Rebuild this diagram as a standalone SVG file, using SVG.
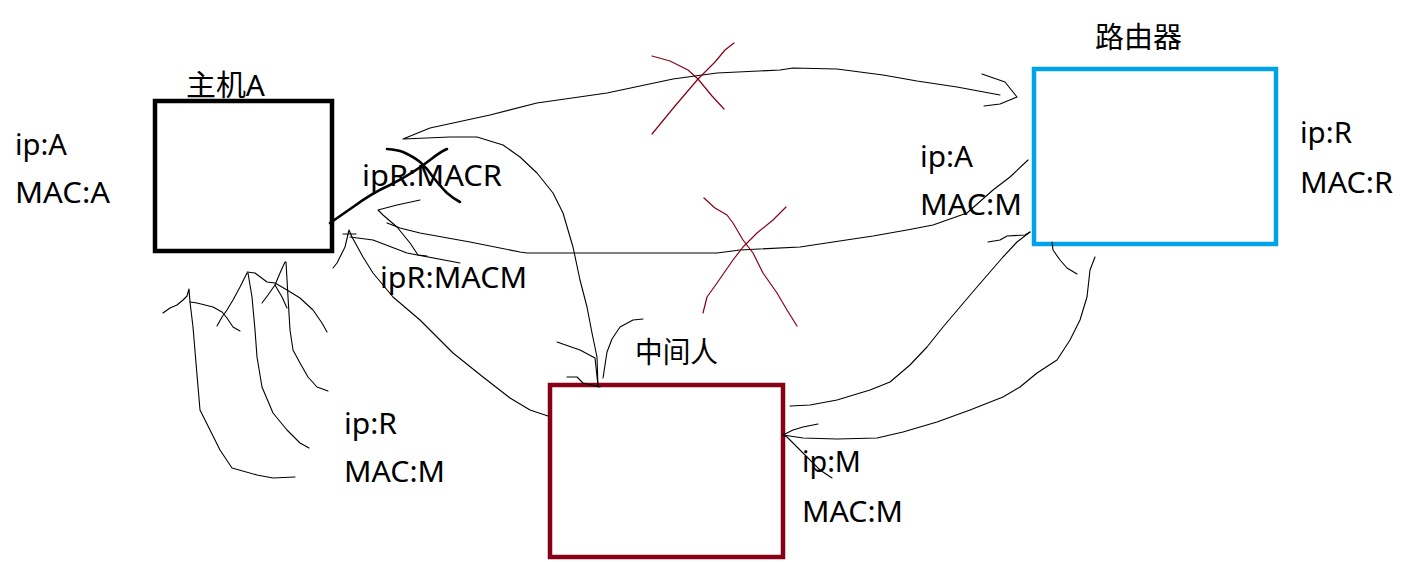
<svg xmlns="http://www.w3.org/2000/svg" width="1404" height="562" viewBox="0 0 1404 562">
<style>
  text { font-family: "Noto Sans", "Noto Sans CJK SC", sans-serif; font-size: 29px; fill: #000; }
  .box { fill: #fff; stroke-width: 4.5; }
  .ink { fill: none; stroke: #000; stroke-width: 1.1; stroke-linejoin: round; stroke-linecap: round; }
  .thick { fill: none; stroke: #000; stroke-width: 2.6; stroke-linejoin: round; stroke-linecap: round; }
  .cross { fill: none; stroke: #880015; stroke-width: 1.2; stroke-linejoin: round; stroke-linecap: round; }
</style>
<rect width="1404" height="562" fill="#fff"/>

<g id="host-a">
  <rect class="box" x="155" y="101" width="177" height="150" stroke="#000"/>
  <text x="186" y="96" textLength="79" lengthAdjust="spacingAndGlyphs">主机A</text>
  <text x="15" y="155" textLength="52" lengthAdjust="spacingAndGlyphs">ip:A</text>
  <text x="15" y="203" textLength="95" lengthAdjust="spacingAndGlyphs">MAC:A</text>
</g>

<g id="router">
  <rect class="box" x="1034" y="69" width="242" height="175" stroke="#00a2e8"/>
  <text x="1095" y="48" textLength="87" lengthAdjust="spacingAndGlyphs">路由器</text>
  <text x="1300" y="143" textLength="52" lengthAdjust="spacingAndGlyphs">ip:R</text>
  <text x="1300" y="193" textLength="93" lengthAdjust="spacingAndGlyphs">MAC:R</text>
</g>

<g id="mitm">
  <rect class="box" x="550" y="385" width="233" height="172" stroke="#880015"/>
  <text x="635" y="363" textLength="83" lengthAdjust="spacingAndGlyphs">中间人</text>
  <text x="802" y="472" textLength="59" lengthAdjust="spacingAndGlyphs">ip:M</text>
  <text x="802" y="522" textLength="101" lengthAdjust="spacingAndGlyphs">MAC:M</text>
</g>

<g id="labels">
  <text x="362" y="186" textLength="140" lengthAdjust="spacingAndGlyphs">ipR:MACR</text>
  <text x="380" y="288" textLength="147" lengthAdjust="spacingAndGlyphs">ipR:MACM</text>
  <text x="920" y="167" textLength="53" lengthAdjust="spacingAndGlyphs">ip:A</text>
  <text x="920" y="215" textLength="102" lengthAdjust="spacingAndGlyphs">MAC:M</text>
  <text x="344" y="434" textLength="53" lengthAdjust="spacingAndGlyphs">ip:R</text>
  <text x="344" y="482" textLength="101" lengthAdjust="spacingAndGlyphs">MAC:M</text>
</g>

<g id="connectors">
  <!-- top arc A -> router, with hook down to middleman -->
  <path class="ink" d="M1000,95 L957,87 L917,81 L883,75 L837,69 L793,68 L780,70 L717,73 L673,79 L607,93 L537,103 L490,115 L430,128 L403,139 L450,137 L477,137 L503,145 L520,157 L537,173 L553,193 L563,213 L573,247 L580,280 L587,307 L592,333 L597,357 L598,387"/>
  <path class="ink" d="M982,74 L1005,82 L1017,97 L1000,104 L984,106"/>
  <path class="ink" d="M557,342 L580,350 L595,358 L598,386"/>
  <path class="ink" d="M643,319 L633,320 L620,327 L612,339 L607,352 L605,365 L603,378"/>
  <path class="ink" d="M567,377 L577,377 L583,383 L600,387"/>

  <!-- lower line router -> A -->
  <path class="ink" d="M1028,160 L1010,177 L993,190 L967,213 L933,225 L907,230 L873,236 L833,242 L800,247 L740,250 L717,253 L620,253 L527,253 L520,252 L470,242 L420,233 L400,228 L387,223"/>
  <path class="ink" d="M420,200 L397,205 L378,210 L383,215 L397,227 L410,243 L418,255 L427,256"/>

  <!-- thick line and cross over ipR:MACR -->
  <path class="thick" d="M330,223 Q340,216 353,207 Q372,193 390,185 Q412,174 430,160 Q440,152 447,149"/>
  <path class="thick" d="M387,149 Q398,150 403,152 Q414,157 420,162 Q428,169 433,177 Q441,187 447,193 Q454,199 460,202"/>

  <!-- A -> middleman left -->
  <path class="ink" d="M333,268 L337,263 L340,257 L345,247 L349,230 L352,237 L363,257 L373,273 L393,297 L420,320 L453,353 L483,377 L510,398 L530,410 L548,416"/>
  <path class="ink" d="M350,237 L373,240 L407,253 L460,263"/>
  <path class="ink" d="M343,234 L356,234"/>

  <!-- squiggles under A -->
  <path class="ink" d="M163,313 L170,308 L177,305 L183,300 L187,296 L189,289 L190,302 L193,327 L196,363 L200,410 L210,430 L220,450 L232,468 L257,475 L273,478 L295,477"/>
  <path class="ink" d="M190,302 L197,303 L213,307 L222,312 L227,318 L233,327 L240,331"/>
  <path class="ink" d="M217,326 L222,317 L227,310 L233,300 L240,287 L247,273 L248,273 L252,297 L255,330 L257,357 L262,387 L273,413 L287,430 L300,443 L309,448"/>
  <path class="ink" d="M247,272 L255,273 L267,282 L275,283 L287,290 L300,298 L313,310 L322,323 L327,332"/>
  <path class="ink" d="M262,303 L268,295 L275,285 L280,273 L285,262 L286,262 L288,297 L290,330 L293,350 L300,363 L308,377 L317,387 L328,391"/>
  <path class="ink" d="M275,285 L282,297 L287,308"/>

  <!-- middleman -> router -->
  <path class="ink" d="M790,406 L810,405 L837,400 L870,390 L890,382 L910,365 L927,347 L943,327 L960,307 L977,287 L990,272 L1003,257 L1017,242 L1030,232"/>
  <path class="ink" d="M988,242 L1000,240 L1007,236 L1025,235 L1030,232"/>

  <!-- router -> middleman -->
  <path class="ink" d="M1095,257 L1090,270 L1087,297 L1080,320 L1070,340 L1057,360 L1037,373 L1020,387 L1003,397 L970,410 L937,422 L903,432 L877,438 L837,439 L803,438 L783,435"/>
  <path class="ink" d="M818,424 L803,427 L793,430 L783,435 L787,437 L793,443 L807,457 L820,470 L832,478"/>
  <path class="ink" d="M1052,242 L1053,250 L1060,260 L1067,268 L1077,274"/>

  <!-- red crosses -->
  <path class="cross" d="M652,56 L670,61 L688,70 L698,79 L712,96 L724,109"/>
  <path class="cross" d="M734,43 L725,50 L715,62 L704,73 L698,79 L675,106 L652,134"/>
  <path class="cross" d="M704,198 L715,208 L727,215 L733,223 L743,240 L753,253 L763,273 L777,293 L787,310 L797,326"/>
  <path class="cross" d="M786,207 L773,220 L757,233 L743,247 L733,260 L717,283 L707,297 L703,313"/>
</g>
</svg>
